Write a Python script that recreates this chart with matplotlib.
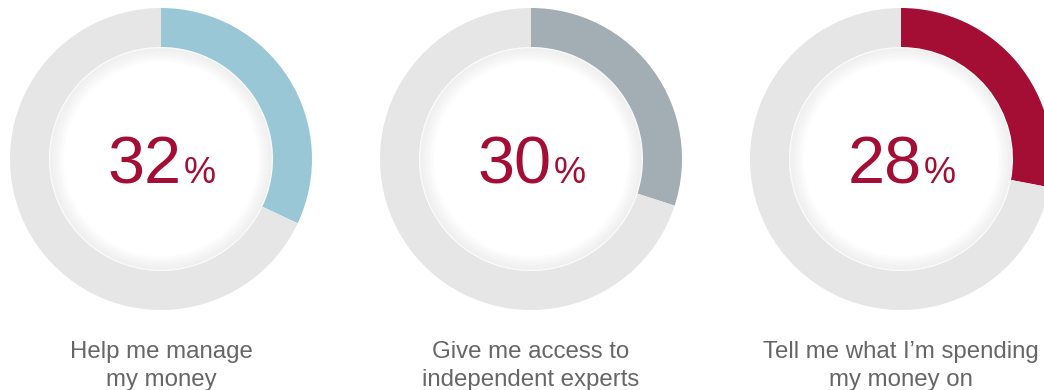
import numpy as np
import matplotlib
matplotlib.use("Agg")
import matplotlib.pyplot as plt
from matplotlib.patches import Circle

plt.rcParams['font.family'] = ['Liberation Sans', 'DejaVu Sans']

# data
shares = [32, 30, 28]
labels = ['Help me manage\nmy money', 'Give me access to\nindependent experts', 'Tell me what I\u2019m spending\nmy money on']
arc_colors = ['#99c7d6', '#a2adb4', '#a50e34']

track = '#e6e6e6'
red = '#a50e34'

fig = plt.figure(figsize=(10.44, 3.9), dpi=100)
ax = fig.add_axes([0, 0, 1, 1])
ax.set_xlim(0, 1044)
ax.set_ylim(0, 390)
ax.set_aspect('equal')
ax.axis('off')

r_out = 151
r_in = 112
cy = 390 - 159

for i, (v, lab, col) in enumerate(zip(shares, labels, arc_colors)):
    cx = 161 + 370 * i
    ax.pie([v, 100 - v], colors=[col, track], startangle=90, counterclock=False,
           radius=r_out, center=(cx, cy), frame=True,
           wedgeprops=dict(width=r_out - r_in, linewidth=0))
    # soft inner shadow
    for k in range(14):
        ax.add_patch(Circle((cx, cy), r_in - 1.5 - k, facecolor='none',
                            edgecolor='#8a8a8a', lw=1.2, alpha=0.08 * (1 - k / 14)))
    ax.text(cx + 21, cy - 24, str(v), color=red, fontsize=48, ha='right', va='baseline')
    ax.text(cx + 23, cy - 24, '%', color=red, fontsize=26, ha='left', va='baseline')
    ax.text(cx, 390 - 386, lab, color='#666666', fontsize=17.3, ha='center',
            va='baseline', linespacing=1.33, multialignment='center')

ax.set_xlim(0, 1044)
ax.set_ylim(0, 390)
ax.axis('off')
fig.savefig('out.png', dpi=100)
